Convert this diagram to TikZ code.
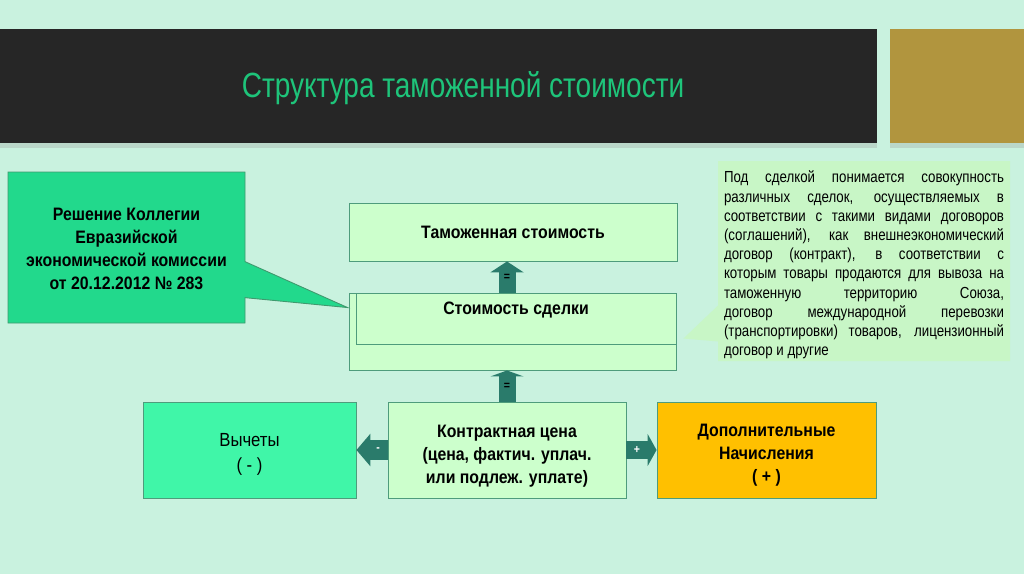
\documentclass[tikz,border=0pt]{standalone}
\usepackage{fontspec}
\setmainfont{Liberation Sans}
\newfontfamily\titlefont[FakeStretch=0.8]{Liberation Sans}
\newfontfamily\boxfont[FakeStretch=0.88]{Liberation Sans}
\newfontfamily\notefont[FakeStretch=0.83]{Liberation Sans}
\usetikzlibrary{shapes.callouts,arrows.meta,calc,shadows}
\definecolor{bg}{HTML}{C9F2DF}
\definecolor{barblack}{HTML}{262626}
\definecolor{gold}{HTML}{B1953E}
\definecolor{titlegreen}{HTML}{1EC47A}
\definecolor{calloutgreen}{HTML}{22D98C}
\definecolor{calloutborder}{HTML}{3F9A6E}
\definecolor{lightgreen}{HTML}{CCFFCC}
\definecolor{boxborder}{HTML}{4E9C7C}
\definecolor{notegreen}{HTML}{C8F6C6}
\definecolor{vychgreen}{HTML}{40F6A8}
\definecolor{orange}{HTML}{FFC000}
\definecolor{teal}{HTML}{2A7B6B}
\begin{document}
\begin{tikzpicture}[x=1pt,y=-1pt,
  box/.style={draw=boxborder, line width=0.9pt, inner sep=0pt, align=center},
  lightbox/.style={box, fill=lightgreen},
  boldtext/.style={font=\boxfont\bfseries\fontsize{18}{23}\selectfont},
  plaintext/.style={font=\boxfont\fontsize{19}{25}\selectfont},
  bigarrow/.style={draw=teal, line width=#1},
  lbl/.style={font=\boxfont\bfseries\fontsize{12}{12}\selectfont, inner sep=0pt}
]
\useasboundingbox (0,0) rectangle (1024,574);
\fill[bg] (0,0) rectangle (1024,574);

% title bar
\node[fill=barblack, minimum width=877pt, minimum height=114pt, inner sep=0pt,
      drop shadow={shadow xshift=0pt, shadow yshift=-5pt, fill=black!40, opacity=0.3}]
      (bar) at (438.5,86) {};
\node[fill=gold, minimum width=134pt, minimum height=114pt, inner sep=0pt,
      drop shadow={shadow xshift=0pt, shadow yshift=-5pt, fill=black!40, opacity=0.3}]
      (goldbox) at (957,86) {};
\node[text=titlegreen, font=\titlefont\fontsize{35}{40}\selectfont, inner sep=0pt]
      (title) at (463,88) {Структура таможенной стоимости};

% central column
\node[lightbox, boldtext, minimum width=328pt, minimum height=58pt] (tam) at (513,232) {Таможенная стоимость};
\node[lightbox, minimum width=327pt, minimum height=77pt] (outer) at (512.5,331.5) {};
\node[lightbox, boldtext, minimum width=320pt, minimum height=51pt, anchor=north east, text depth=20pt, text height=11pt] (inner) at (outer.north east) {Стоимость сделки};

\node[lightbox, boldtext, minimum width=238pt, minimum height=96pt] (contract) at (507,450)
  {\rule{0pt}{25pt}Контрактная цена\\(цена, фактич. уплач.\\или подлеж. уплате)};
\node[box, fill=vychgreen, plaintext, minimum width=213pt, minimum height=96pt] (vych) at (249.5,450)
  {\rule{0pt}{21.5pt}Вычеты\\( - )};
\node[box, fill=orange, boldtext, minimum width=219pt, minimum height=96pt] (dop) at (766.5,450)
  {\rule{0pt}{23pt}Дополнительные\\Начисления\\( + )};

% callouts
\node[rectangle callout, draw=calloutborder, line width=0.9pt, fill=calloutgreen,
      minimum width=237pt, minimum height=151pt, inner sep=0pt, align=center,
      callout pointer width=36pt,
      callout absolute pointer={($(outer.north west)+(-1,15)$)},
      boldtext]
      (decision) at (126.5,247.5)
  {\rule{0pt}{15pt}Решение Коллегии\\Евразийской\\экономической комиссии\\от 20.12.2012 № 283};

\node[rectangle callout, fill=notegreen, draw=none,
      minimum width=292pt, minimum height=200pt, inner sep=0pt,
      callout pointer width=36pt,
      callout absolute pointer={($(outer.east)+(7,7)$)}]
      (note) at (864,261)
  {\parbox[c]{280pt}{\vspace*{8pt}\notefont\fontsize{16}{19.2}\selectfont
   \makebox[280pt][s]{Под сделкой понимается совокупность}\\
   \makebox[280pt][s]{различных сделок, осуществляемых в}\\
   \makebox[280pt][s]{соответствии с такими видами договоров}\\
   \makebox[280pt][s]{(соглашений), как внешнеэкономический}\\
   \makebox[280pt][s]{договор (контракт), в соответствии с}\\
   \makebox[280pt][s]{которым товары продаются для вывоза на}\\
   \makebox[280pt][s]{таможенную территорию Союза,}\\
   \makebox[280pt][s]{договор международной перевозки}\\
   \makebox[280pt][s]{(транспортировки) товаров, лицензионный}\\
   договор и другие}};

% arrows (vertical axis through the contract box centre)
\coordinate (axtop) at (contract.north |- outer.north);
\coordinate (axtam) at (contract.north |- tam.south);
\coordinate (axbot) at (contract.north |- outer.south);
\draw[bigarrow=17pt, -{Triangle[width=33pt,length=11pt]}] (axtop) -- node[lbl, text=black] {=} (axtam);
\draw[bigarrow=17pt, -{Triangle[width=33pt,length=6pt]}] (contract.north) -- node[lbl, text=black] {=} (axbot);
\draw[bigarrow=20pt, -{Triangle[width=32pt,length=14pt]}] (contract.west) -- node[lbl, text=white, pos=0.3] {-} (vych.east);
\draw[bigarrow=18pt, -{Triangle[width=32pt,length=9pt]}] (contract.east) -- node[lbl, text=white, pos=0.35] {+} (dop.west);
\end{tikzpicture}
\end{document}
